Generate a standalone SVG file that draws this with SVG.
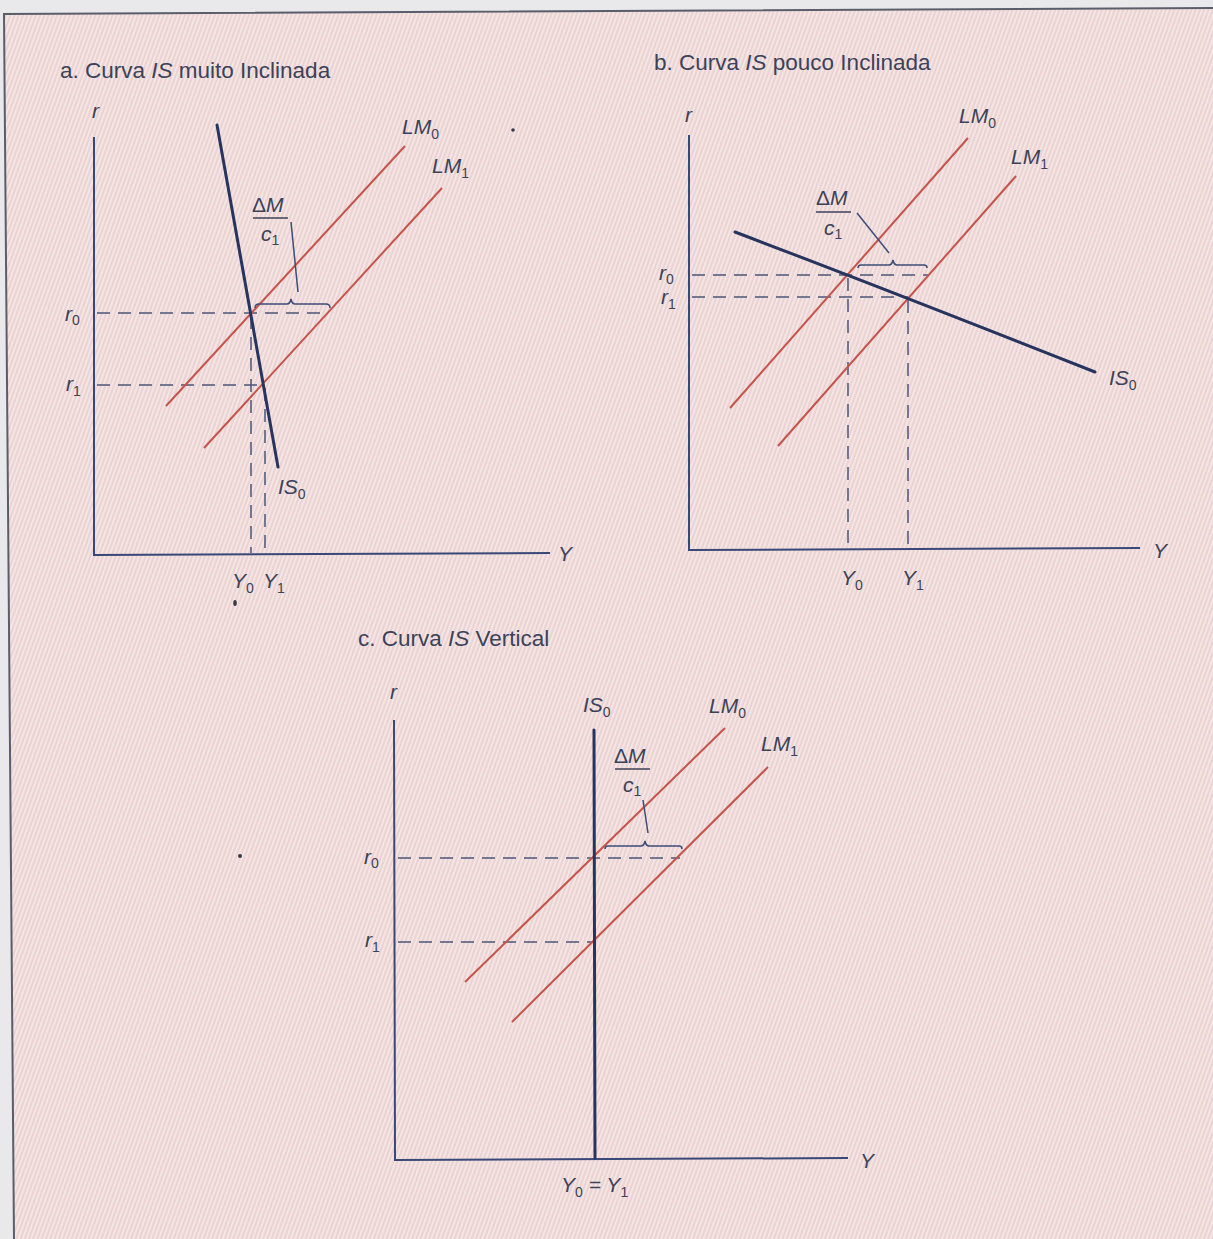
<svg xmlns="http://www.w3.org/2000/svg" width="1213" height="1239" viewBox="0 0 1213 1239">
<defs>
<pattern id="hatch" patternUnits="userSpaceOnUse" width="4" height="4" patternTransform="rotate(20)">
<rect width="4" height="4" fill="#ebd2d6"/>
<rect x="0" y="0" width="1.8" height="4" fill="#f5e8e2"/>
</pattern>
<style>
.t{font-family:"Liberation Sans",Arial,sans-serif;font-size:21px;fill:#3c4258}
.h{font-size:22.5px}
.i{font-style:italic}
.s{font-size:14px;font-style:normal}
.ax{stroke:#3a4878;stroke-width:2;fill:none}
.is{stroke:#27345e;stroke-width:3;fill:none;stroke-linecap:round}
.lm{stroke:#c4544c;stroke-width:2;fill:none}
.da{stroke:#4c5678;stroke-width:1.5;stroke-dasharray:13 8;fill:none}
.br{stroke:#3e4c78;stroke-width:1.5;fill:none}
</style>
</defs>
<rect width="1213" height="1239" fill="#e9e8ea"/>
<path d="M4,14 L1213,8 L1213,1239 L14,1239 Z" fill="url(#hatch)"/>
<path d="M14,1239 L4,14 L1213,8" stroke="#5a5e6a" stroke-width="2" fill="none"/>
<g fill="#3a3a44">
<circle cx="513" cy="130" r="1.8"/>
<ellipse cx="235" cy="603" rx="1.8" ry="3"/>
<circle cx="240" cy="856" r="2"/>
</g>

<g id="panel-a">
<text class="t h" x="60" y="78">a. Curva <tspan class="i">IS</tspan> muito Inclinada</text>
<g id="a-axes">
<path class="ax" d="M94,137 L94,555 L550,553"/>
<text class="t i" x="92" y="118">r</text>
<text class="t i" x="558" y="561">Y</text>
</g>
<g id="a-connectors">
<path class="da" d="M97,313 L328,313"/>
<path class="da" d="M97,385 L263,385"/>
<path class="da" d="M251,316 L251,553"/>
<path class="da" d="M265,388 L265,553"/>
<path class="lm" d="M166,406 L405,146"/>
<path class="lm" d="M204,448 L442,188"/>
<path class="is" d="M217,125 L278,467"/>
<path class="br" d="M255,308 Q255,304 259,304 L287,304 Q290,304 291,299 Q292,304 295,304 L326,304 Q330,304 330,308"/>
<path class="br" d="M291,222 L298,292"/>
</g>
<g id="a-labels">
<text class="t i" x="402" y="134">LM<tspan class="s" dy="5">0</tspan></text>
<text class="t i" x="432" y="173">LM<tspan class="s" dy="5">1</tspan></text>
<text class="t i" x="278" y="494">IS<tspan class="s" dy="5">0</tspan></text>
<text class="t i" x="65" y="321">r<tspan class="s" dy="4">0</tspan></text>
<text class="t i" x="66" y="391">r<tspan class="s" dy="5">1</tspan></text>
<text class="t i" x="232" y="588">Y<tspan class="s" dy="5">0</tspan></text>
<text class="t i" x="263" y="588">Y<tspan class="s" dy="5">1</tspan></text>
<text class="t" x="252" y="212">Δ<tspan class="i">M</tspan></text>
<path d="M253,218 L288,218" stroke="#3c4258" stroke-width="1.5"/>
<text class="t i" x="261" y="241">c<tspan class="s" dy="4">1</tspan></text>
</g>
</g>

<g id="panel-b">
<text class="t h" x="654" y="70">b. Curva <tspan class="i">IS</tspan> pouco Inclinada</text>
<g id="b-axes">
<path class="ax" d="M689,135 L689,550 L1140,548"/>
<text class="t i" x="685" y="122">r</text>
<text class="t i" x="1153" y="558">Y</text>
</g>
<g id="b-connectors">
<path class="da" d="M692,275 L928,275"/>
<path class="da" d="M692,297 L908,297"/>
<path class="da" d="M848,278 L848,548"/>
<path class="da" d="M908,300 L908,548"/>
<path class="lm" d="M730,408 L968,138"/>
<path class="lm" d="M778,446 L1016,176"/>
<path class="is" d="M735,232 Q880,287 1095,372"/>
<path class="br" d="M858,268 Q858,265 861,265 L889,265 Q892,265 893,260 Q894,265 897,265 L924,265 Q927,265 927,268"/>
<path class="br" d="M857,213 L889,253"/>
</g>
<g id="b-labels">
<text class="t i" x="959" y="123">LM<tspan class="s" dy="5">0</tspan></text>
<text class="t i" x="1011" y="164">LM<tspan class="s" dy="5">1</tspan></text>
<text class="t i" x="1109" y="385">IS<tspan class="s" dy="5">0</tspan></text>
<text class="t i" x="659" y="280">r<tspan class="s" dy="4">0</tspan></text>
<text class="t i" x="661" y="304">r<tspan class="s" dy="5">1</tspan></text>
<text class="t i" x="841" y="585">Y<tspan class="s" dy="5">0</tspan></text>
<text class="t i" x="902" y="585">Y<tspan class="s" dy="5">1</tspan></text>
<text class="t" x="816" y="205">Δ<tspan class="i">M</tspan></text>
<path d="M816,212 L851,212" stroke="#3c4258" stroke-width="1.5"/>
<text class="t i" x="824" y="235">c<tspan class="s" dy="4">1</tspan></text>
</g>
</g>

<g id="panel-c">
<text class="t h" x="358" y="646">c. Curva <tspan class="i">IS</tspan> Vertical</text>
<g id="c-axes">
<path class="ax" d="M394,720 L395,1160 L848,1158"/>
<text class="t i" x="390" y="699">r</text>
<text class="t i" x="860" y="1168">Y</text>
</g>
<g id="c-connectors">
<path class="da" d="M398,858 L680,858"/>
<path class="da" d="M398,942 L595,942"/>
<path class="lm" d="M465,982 L725,728"/>
<path class="lm" d="M512,1022 L768,767"/>
<path class="is" d="M594,730 L595,1158"/>
<path class="br" d="M605,849 Q605,846 608,846 L641,846 Q644,846 645,841 Q646,846 649,846 L679,846 Q682,846 682,849"/>
<path class="br" d="M643,800 L648,833"/>
</g>
<g id="c-labels">
<text class="t i" x="583" y="712">IS<tspan class="s" dy="5">0</tspan></text>
<text class="t i" x="709" y="713">LM<tspan class="s" dy="5">0</tspan></text>
<text class="t i" x="761" y="751">LM<tspan class="s" dy="5">1</tspan></text>
<text class="t i" x="364" y="864">r<tspan class="s" dy="4">0</tspan></text>
<text class="t i" x="365" y="947">r<tspan class="s" dy="5">1</tspan></text>
<text class="t i" x="561" y="1192">Y<tspan class="s" dy="5">0</tspan><tspan dy="-5"> = Y</tspan><tspan class="s" dy="5">1</tspan></text>
<text class="t" x="614" y="763">Δ<tspan class="i">M</tspan></text>
<path d="M615,769 L650,769" stroke="#3c4258" stroke-width="1.5"/>
<text class="t i" x="623" y="792">c<tspan class="s" dy="4">1</tspan></text>
</g>
</g>
</svg>
